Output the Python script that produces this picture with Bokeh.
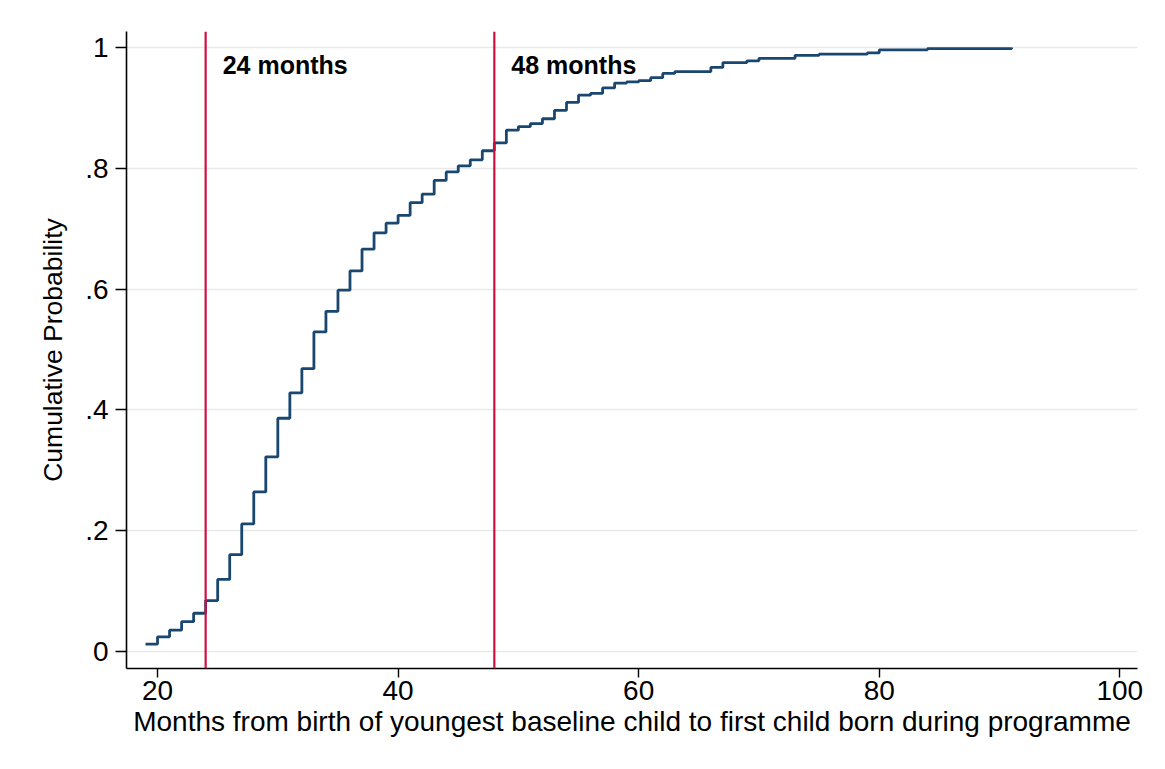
from bokeh.plotting import figure
from bokeh.models import Label, Span, FixedTicker, CustomJSTickFormatter, BoxAnnotation
from bokeh.embed import file_html
from bokeh.resources import INLINE

# Empirical CDF of months between youngest baseline child and first programme birth
months = [19, 20, 21, 22, 23, 24, 25, 26, 27, 28, 29, 30, 31, 32, 33, 34, 35, 36,
          37, 38, 39, 40, 41, 42, 43, 44, 45, 46, 47, 48, 49, 50, 51, 52, 53, 54,
          55, 56, 57, 58, 59, 60, 61, 62, 63, 66, 67, 69, 70, 73, 75, 79, 80, 84, 91]
cum_prob = [0.012, 0.024, 0.035, 0.049, 0.063, 0.084, 0.119, 0.160, 0.211, 0.264,
            0.322, 0.386, 0.428, 0.468, 0.529, 0.563, 0.598, 0.630, 0.666, 0.693,
            0.709, 0.722, 0.743, 0.757, 0.780, 0.794, 0.804, 0.814, 0.829, 0.842,
            0.863, 0.869, 0.874, 0.882, 0.896, 0.909, 0.921, 0.924, 0.933, 0.941,
            0.943, 0.945, 0.950, 0.957, 0.960, 0.967, 0.975, 0.978, 0.982, 0.987,
            0.989, 0.991, 0.996, 0.998, 1.000]

# Reference lines and their labels
cutoffs = [24, 48]
cutoff_labels = ["24 months", "48 months"]

x_ticks = [20, 40, 60, 80, 100]
y_ticks = [0, 0.2, 0.4, 0.6, 0.8, 1.0]
y_tick_labels = ["0", ".2", ".4", ".6", ".8", "1"]

FONT = "Liberation Sans"
LINE_BLUE = "#1a476f"
CUT_RED = "#cc1240"

p = figure(width=1165, height=769, output_backend="svg", toolbar_location=None,
           x_range=(17.42, 101.47), y_range=(-0.0285, 1.0265),
           min_border_left=126, min_border_right=28,
           min_border_top=31, min_border_bottom=101)
p.background_fill_color = "white"
p.border_fill_color = "white"
p.outline_line_color = None

# Faint outer frame around the whole graphic
p.add_layout(BoxAnnotation(left=6, right=1159, top=5, bottom=763,
                           left_units="canvas", right_units="canvas",
                           top_units="canvas", bottom_units="canvas",
                           fill_color=None, line_color="#e4e4e4", line_width=1))

# Grid
p.xgrid.visible = False
p.ygrid.ticker = FixedTicker(ticks=y_ticks)
p.ygrid.grid_line_color = "#e9e9e9"
p.ygrid.grid_line_width = 1.5

# Axes
p.xaxis.ticker = FixedTicker(ticks=x_ticks)
p.yaxis.ticker = FixedTicker(ticks=y_ticks)
p.yaxis.formatter = CustomJSTickFormatter(
    args=dict(tick_vals=y_ticks, tick_text=y_tick_labels),
    code="""
    for (let i = 0; i < tick_vals.length; i++) {
        if (Math.abs(tick_vals[i] - tick) < 1e-9) return tick_text[i];
    }
    return '';
    """)

for ax in (p.xaxis, p.yaxis):
    ax.axis_line_color = "black"
    ax.axis_line_width = 1.6
    ax.major_tick_line_color = "black"
    ax.major_tick_line_width = 1.4
    ax.minor_tick_line_color = None
    ax.major_tick_in = 0
    ax.major_label_text_font = FONT
    ax.major_label_text_font_size = "28px"
    ax.major_label_text_color = "black"
    ax.axis_label_text_font = FONT
    ax.axis_label_text_font_style = "normal"
    ax.axis_label_text_color = "black"

p.xaxis.major_tick_out = 9
p.yaxis.major_tick_out = 11
p.xaxis.major_label_standoff = 3
p.yaxis.major_label_standoff = 7

p.xaxis.axis_label = "Months from birth of youngest baseline child to first child born during programme"
p.xaxis.axis_label_text_font_size = "28px"
p.xaxis.axis_label_standoff = 3
p.yaxis.axis_label = "Cumulative Probability"
p.yaxis.axis_label_text_font_size = "26.5px"
p.yaxis.axis_label_standoff = 14
p.yaxis.major_label_orientation = "horizontal"

# Vertical cut-off lines
for c in cutoffs:
    p.add_layout(Span(location=c, dimension="height", line_color=CUT_RED,
                      line_width=2.2))

# Step CDF
p.step(months, cum_prob, mode="after", line_color=LINE_BLUE, line_width=2.8)

# Cut-off annotations
for c, txt in zip(cutoffs, cutoff_labels):
    p.add_layout(Label(x=c, y=0.971, x_offset=17, text=txt,
                       text_font=FONT, text_font_style="bold",
                       text_font_size="25px", text_color="black",
                       text_baseline="alphabetic", text_align="left"))

open("out.html", "w").write(file_html(p, INLINE))
